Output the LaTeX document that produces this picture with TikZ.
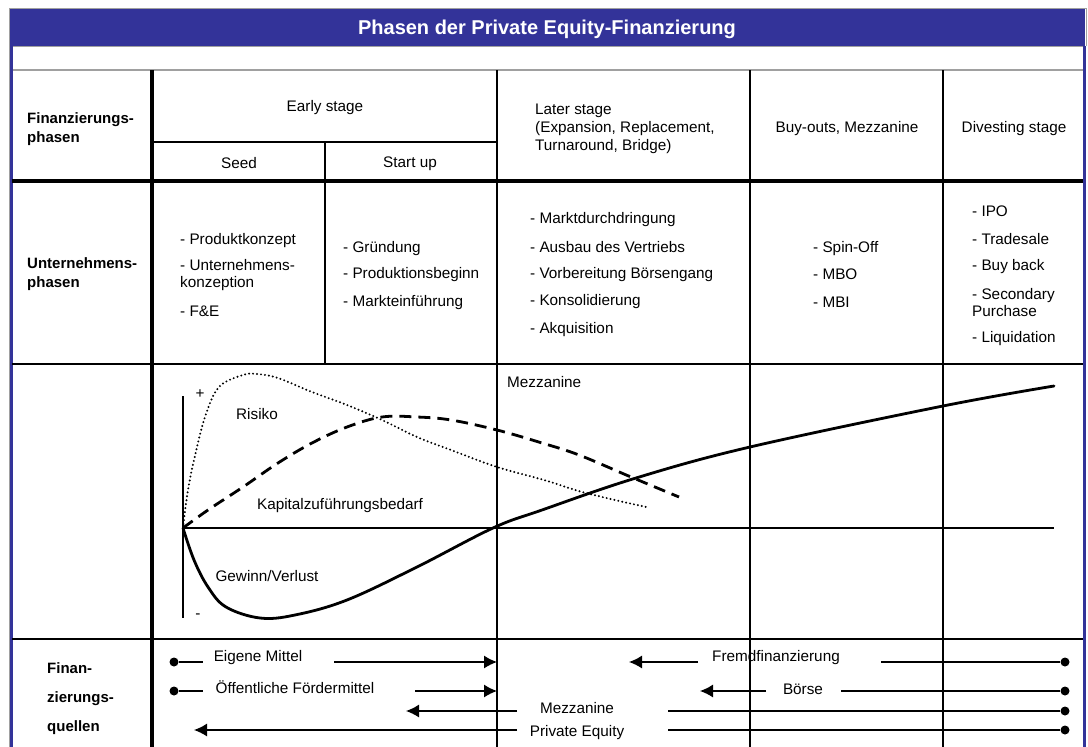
\documentclass[tikz,border=0pt]{standalone}
\usepackage{fontspec}
\setmainfont{Liberation Sans}
\usetikzlibrary{arrows.meta}
\definecolor{titleblue}{RGB}{51,51,153}
\definecolor{framegray}{RGB}{160,160,160}
\begin{document}
\begin{tikzpicture}[x=1pt,y=-1pt,
   txt/.style={font=\fontsize{15.3}{17}\selectfont, inner sep=0pt, align=left, yshift=-1.5pt},
   hd/.style={txt, font=\fontsize{15}{19}\selectfont\bfseries},
   grid/.style={line width=1.8pt},
   curve/.style={line width=2.8pt, line cap=round},
   srcline/.style={line width=1.2pt},
   srcarrow/.style={line width=1.2pt, -{Latex[length=13pt,width=13pt]}},
   dot/.style={circle, fill, inner sep=0pt, minimum size=9pt}]
   \useasboundingbox (0,0) rectangle (1088,747);
   % frame and title
   \fill[titleblue] (10,8) rectangle (1085,46);
   \draw[framegray, line width=1pt] (9,8) -- (1086,8);
   \draw[framegray, line width=1pt] (9,8) -- (9,747);
   \draw[framegray, line width=1pt] (1086,8) -- (1086,46);
   \node[font=\fontsize{20}{22}\selectfont\bfseries, text=white] (title) at (547,29.5) {Phasen der Private Equity-Finanzierung};
   \draw[framegray, line width=0.8pt] (12,46) -- (1083,46);
   \draw[framegray, line width=1.6pt] (12,70) -- (1083,70);
   \draw[titleblue, line width=2.2pt] (11.5,46) -- (11.5,747);
   \draw[titleblue, line width=3pt] (1084,46) -- (1084,747);
   % table rules
   \draw[line width=3.5pt] (12,181) -- (1083,181);
   \draw[grid] (12,364) -- (1083,364);
   \draw[grid] (12,639) -- (1083,639);
   \draw[line width=4pt] (152,70) -- (152,747);
   \draw[grid] (497,70) -- (497,747);
   \draw[grid] (750,70) -- (750,747);
   \draw[grid] (943,70) -- (943,747);
   \draw[grid] (152,142) -- (497,142);
   \draw[grid] (325,142) -- (325,364);
   % header row
   \node[hd, anchor=west] (finph) at (27,127.5) {Finanzierungs-\\phasen};
   \node[txt] (early) at (325,106) {Early stage};
   \node[txt] (seed) at (239,162) {Seed};
   \node[txt] (start) at (410,162) {Start up};
   \node[txt, anchor=west, font=\fontsize{15.3}{18}\selectfont] (later) at (535,127) {Later stage\\(Expansion, Replacement,\\Turnaround, Bridge)};
   \node[txt] (buyout) at (847,127) {Buy-outs, Mezzanine};
   \node[txt] (divest) at (1014,127) {Divesting stage};
   % company phases
   \node[hd, anchor=west] (untph) at (27,273) {Unternehmens-\\phasen};
   \node[txt, anchor=west] (s1) at (180,239) {- Produktkonzept};
   \node[txt, anchor=west] (s2) at (180,273.5) {- Unternehmens-\\konzeption};
   \node[txt, anchor=west] (s3) at (180,310) {- F\&E};
   \node[txt, anchor=west] (u1) at (343,247) {- Gründung};
   \node[txt, anchor=west] (u2) at (343,273) {- Produktionsbeginn};
   \node[txt, anchor=west] (u3) at (343,301) {- Markteinführung};
   \node[txt, anchor=west] (l1) at (530,218) {- Marktdurchdringung};
   \node[txt, anchor=west] (l2) at (530,246) {- Ausbau des Vertriebs};
   \node[txt, anchor=west] (l3) at (530,273) {- Vorbereitung Börsengang};
   \node[txt, anchor=west] (l4) at (530,300) {- Konsolidierung};
   \node[txt, anchor=west] (l5) at (530,328) {- Akquisition};
   \node[txt, anchor=west] (b1) at (813,247) {- Spin-Off};
   \node[txt, anchor=west] (b2) at (813,273) {- MBO};
   \node[txt, anchor=west] (b3) at (813,301) {- MBI};
   \node[txt, anchor=west] (d1) at (972,210) {- IPO};
   \node[txt, anchor=west] (d2) at (972,238) {- Tradesale};
   \node[txt, anchor=west] (d3) at (972,265) {- Buy back};
   \node[txt, anchor=west] (d4) at (972,301.5) {- Secondary\\Purchase};
   \node[txt, anchor=west] (d5) at (972,337) {- Liquidation};
   % chart
   \draw[line width=2pt] (183,396) -- (183,618);
   \draw[line width=2pt] (183,528) -- (1054,528);
   \node[txt] (plus) at (200,393) {+};
   \node[txt] (minus) at (198,615) {-};
   \draw[line width=2.2pt, dash pattern=on 0pt off 4pt, line cap=round] plot[smooth, tension=0.6] coordinates {(183,528) (187.5,493) (194,460) (205,417) (219,387) (243,375) (257,374) (278,378) (312,392) (347,405) (382,420) (417,437) (451,450) (497,467) (544,480) (586,493) (646,507)};
   \draw[curve, dash pattern=on 12pt off 7pt, line cap=butt] plot[smooth, tension=0.6] coordinates {(183,528) (208,510) (243,487) (278,463) (312,443) (347,427) (382,417) (417,417) (451,420) (497,430) (542,443) (579,455) (631,477) (679,497)};
   \draw[curve] plot[smooth, tension=0.6] coordinates {(183,528) (194,560) (208,587) (226,607) (260,618) (295,615) (347,600) (417,567) (493,528) (542,510) (636,478) (750,447) (943,406) (1054,386)};
   \node[txt] (risiko) at (257,413) {Risiko};
   \node[txt] (kapital) at (340,504) {Kapitalzuführungsbedarf};
   \node[txt] (gewinn) at (267,575) {Gewinn/Verlust};
   \node[txt, anchor=west] (mezzhd) at (507,381) {Mezzanine};
   % sources of finance
   \node[hd, anchor=west, font=\fontsize{15}{29}\selectfont\bfseries] (finq) at (47,697) {Finan-\\zierungs-\\quellen};
   \node[dot] (emS) at (174,662) {};
   \coordinate (em1) at (203,662);
   \coordinate (em2) at (334,662);
   \coordinate (emE) at (497,662);
   \node[txt] (emT) at (258,656) {Eigene Mittel};
   \draw[srcline] (emS) -- (em1);
   \draw[srcarrow] (em2) -- (emE);
   \node[dot] (ofS) at (174,691) {};
   \coordinate (of1) at (203,691);
   \coordinate (of2) at (415,691);
   \coordinate (ofE) at (497,691);
   \node[txt] (ofT) at (295,686) {Öffentliche Fördermittel};
   \draw[srcline] (ofS) -- (of1);
   \draw[srcarrow] (of2) -- (ofE);
   \node[dot] (frS) at (1065,662) {};
   \coordinate (fr1) at (881,662);
   \coordinate (fr2) at (698,662);
   \coordinate (frE) at (629,662);
   \node[txt] (frT) at (776,656) {Fremdfinanzierung};
   \draw[srcline] (frS) -- (fr1);
   \draw[srcarrow] (fr2) -- (frE);
   \node[dot] (boS) at (1065,691) {};
   \coordinate (bo1) at (841,691);
   \coordinate (bo2) at (766,691);
   \coordinate (boE) at (700,691);
   \node[txt] (boT) at (803,688) {Börse};
   \draw[srcline] (boS) -- (bo1);
   \draw[srcarrow] (bo2) -- (boE);
   \node[dot] (mzS) at (1065,711) {};
   \coordinate (mz1) at (668,711);
   \coordinate (mz2) at (517,711);
   \coordinate (mzE) at (406,711);
   \node[txt] (mzT) at (577,707) {Mezzanine};
   \draw[srcline] (mzS) -- (mz1);
   \draw[srcarrow] (mz2) -- (mzE);
   \node[dot] (peS) at (1065,730) {};
   \coordinate (pe1) at (668,730);
   \coordinate (pe2) at (517,730);
   \coordinate (peE) at (194,730);
   \node[txt] (peT) at (577,731) {Private Equity};
   \draw[srcline] (peS) -- (pe1);
   \draw[srcarrow] (pe2) -- (peE);
\end{tikzpicture}
\end{document}
